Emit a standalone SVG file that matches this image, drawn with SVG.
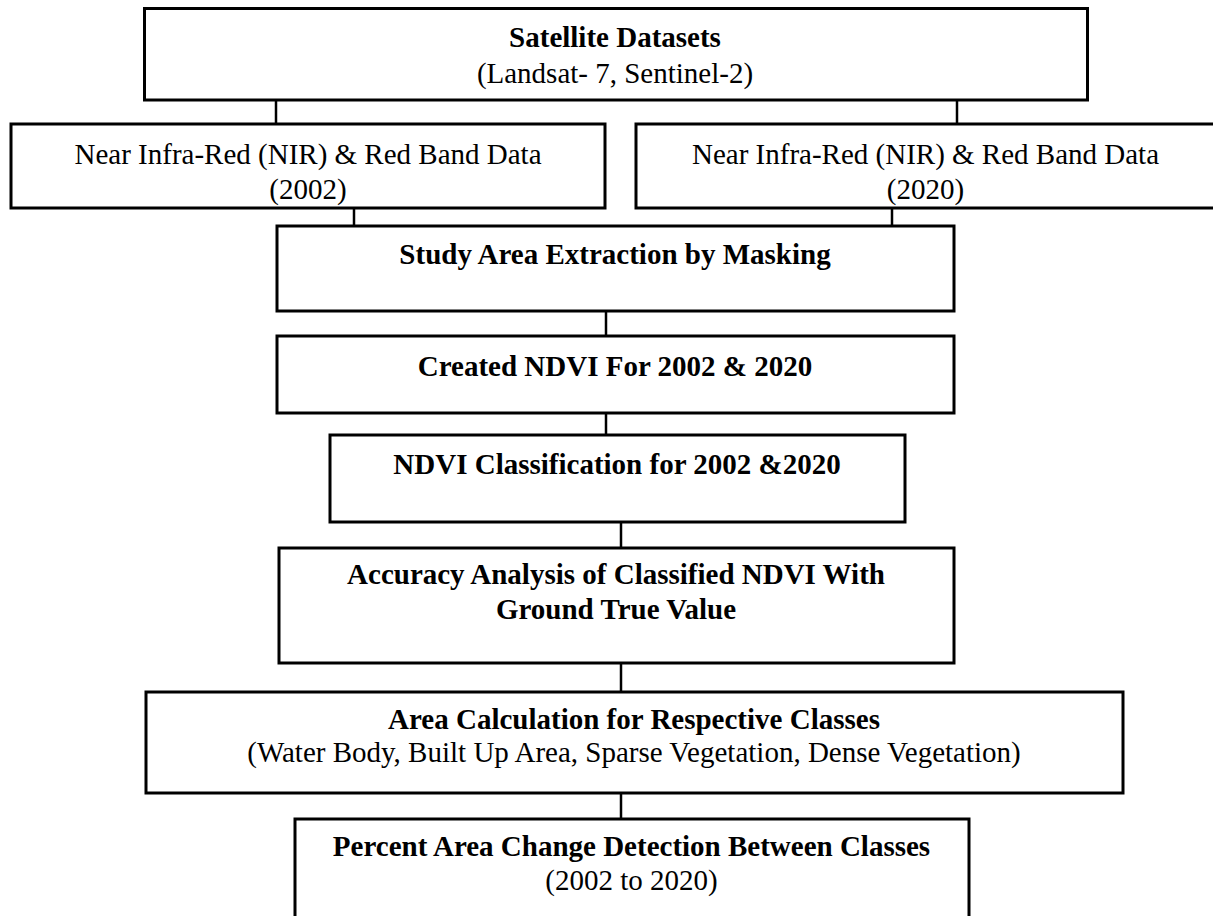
<svg xmlns="http://www.w3.org/2000/svg" width="1213" height="916" viewBox="0 0 1213 916">
<style>
.box{fill:#fff;stroke:#000;stroke-width:3}
.ln{stroke:#000;stroke-width:2.5;fill:none}
text{font-family:"Liberation Serif","Times New Roman",serif;font-size:29px;fill:#000;text-anchor:middle}
.b{font-weight:bold}
</style>
<rect width="1213" height="916" fill="#fff"/>
<g id="connectors">
<line class="ln" x1="276" y1="100" x2="276" y2="123"/>
<line class="ln" x1="957" y1="100" x2="957" y2="123"/>
<line class="ln" x1="354" y1="208" x2="354" y2="225"/>
<line class="ln" x1="892" y1="208" x2="892" y2="225"/>
<line class="ln" x1="606" y1="311" x2="606" y2="335"/>
<line class="ln" x1="606" y1="413" x2="606" y2="434"/>
<line class="ln" x1="621" y1="522" x2="621" y2="547"/>
<line class="ln" x1="621" y1="663" x2="621" y2="691"/>
<line class="ln" x1="621" y1="793" x2="621" y2="818"/>
</g>
<g id="n1">
<rect class="box" x="144.5" y="8.5" width="943" height="91.5"/>
<text class="b" x="615" y="47">Satellite Datasets</text>
<text x="615" y="83">(Landsat- 7, Sentinel-2)</text>
</g>
<g id="n2">
<rect class="box" x="11" y="124" width="594" height="84"/>
<text x="308" y="164">Near Infra-Red (NIR) &amp; Red Band Data</text>
<text x="308" y="199">(2002)</text>
</g>
<g id="n3">
<rect class="box" x="636" y="124" width="580" height="84"/>
<text x="925.5" y="164">Near Infra-Red (NIR) &amp; Red Band Data</text>
<text x="925.5" y="199">(2020)</text>
</g>
<g id="n4">
<rect class="box" x="277" y="226" width="677" height="85"/>
<text class="b" x="615" y="264">Study Area Extraction by Masking</text>
</g>
<g id="n5">
<rect class="box" x="277" y="336" width="677" height="77"/>
<text class="b" x="615" y="376">Created NDVI For 2002 &amp; 2020</text>
</g>
<g id="n6">
<rect class="box" x="330" y="435" width="575" height="87"/>
<text class="b" x="617" y="474">NDVI Classification for 2002 &amp;2020</text>
</g>
<g id="n7">
<rect class="box" x="279" y="548" width="675" height="115"/>
<text class="b" x="616" y="584">Accuracy Analysis of Classified NDVI With</text>
<text class="b" x="616" y="619">Ground True Value</text>
</g>
<g id="n8">
<rect class="box" x="146" y="692" width="977" height="101"/>
<text class="b" x="634" y="729">Area Calculation for Respective Classes</text>
<text x="634" y="762">(Water Body, Built Up Area, Sparse Vegetation, Dense Vegetation)</text>
</g>
<g id="n9">
<rect class="box" x="295" y="819" width="674" height="120"/>
<text class="b" x="631.5" y="856">Percent Area Change Detection Between Classes</text>
<text x="631.5" y="890">(2002 to 2020)</text>
</g>
</svg>
